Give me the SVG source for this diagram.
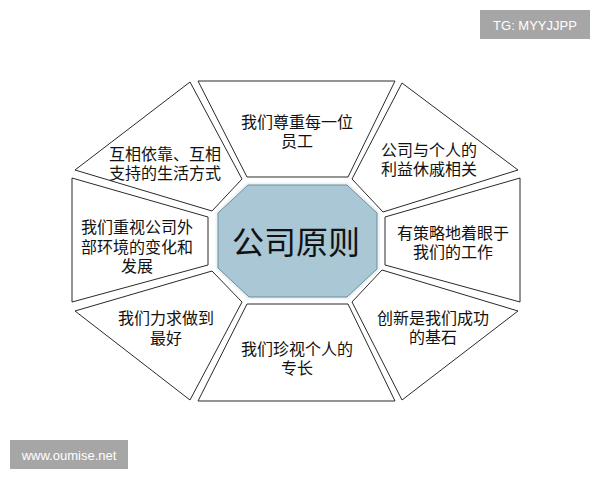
<svg xmlns="http://www.w3.org/2000/svg" width="600" height="480" viewBox="0 0 600 480">
  <style>
    .seg { fill: #ffffff; stroke: #2a2a2a; stroke-width: 1; stroke-linejoin: miter; }
    .t { font-family: "Noto Sans CJK SC", "Liberation Serif", serif; font-size: 16px; fill: #111; text-anchor: middle; dominant-baseline: central; }
    .c { font-family: "Noto Sans CJK SC", "Liberation Serif", serif; font-size: 32px; fill: #111; text-anchor: middle; dominant-baseline: central; }
    .wm { fill: #a6a6a6; }
    .wmt { font-family: "Liberation Sans", "DejaVu Sans", sans-serif; font-size: 13px; fill: #ffffff; text-anchor: middle; dominant-baseline: central; }
  </style>
  <rect x="0" y="0" width="600" height="480" fill="#ffffff"/>

  <g id="seg-top">
    <polygon class="seg" points="198,81 395,81 348,177 247,177"/>
    <text class="t" x="297" y="121">我们尊重每一位</text>
    <text class="t" x="297" y="140">员工</text>
  </g>
  <g id="seg-top-right">
    <polygon class="seg" points="402,83 518,170 383,212 352,179"/>
    <text class="t" x="429" y="149">公司与个人的</text>
    <text class="t" x="429" y="168">利益休戚相关</text>
  </g>
  <g id="seg-right">
    <polygon class="seg" points="385,217 520,178 520,302 385,265"/>
    <text class="t" x="453" y="232">有策略地着眼于</text>
    <text class="t" x="453" y="251">我们的工作</text>
  </g>
  <g id="seg-bottom-right">
    <polygon class="seg" points="382,270 518,311 402,400 352,302"/>
    <text class="t" x="433" y="317">创新是我们成功</text>
    <text class="t" x="433" y="336">的基石</text>
  </g>
  <g id="seg-bottom">
    <polygon class="seg" points="247,304 348,304 395,401 198,401"/>
    <text class="t" x="297" y="348">我们珍视个人的</text>
    <text class="t" x="297" y="367">专长</text>
  </g>
  <g id="seg-bottom-left">
    <polygon class="seg" points="75,311 212,271 242,302 190,400"/>
    <text class="t" x="166" y="317">我们力求做到</text>
    <text class="t" x="166" y="337">最好</text>
  </g>
  <g id="seg-left">
    <polygon class="seg" points="72,178 208,217 208,265 72,302"/>
    <text class="t" x="137" y="226">我们重视公司外</text>
    <text class="t" x="137" y="246">部环境的变化和</text>
    <text class="t" x="137" y="265">发展</text>
  </g>
  <g id="seg-top-left">
    <polygon class="seg" points="190,82 242,179 212,211 75,170"/>
    <text class="t" x="165" y="153">互相依靠、互相</text>
    <text class="t" x="165" y="172">支持的生活方式</text>
  </g>

  <g id="center">
    <polygon points="248,185 347,185 377,213 377,269 347,297 249,297 218,268 218,213" fill="none" stroke="#eef3f6" stroke-width="5"/>
    <polygon points="248,185 347,185 377,213 377,269 347,297 249,297 218,268 218,213" fill="#a9c7d5" stroke="#6d8d9b" stroke-width="1"/>
    <text class="c" x="296" y="240">公司原则</text>
  </g>

  <g id="connectors"></g>

  <g id="watermark-top">
    <rect class="wm" x="480" y="10" width="110" height="29"/>
    <text class="wmt" x="535" y="25">TG: MYYJJPP</text>
  </g>
  <g id="watermark-bottom">
    <rect class="wm" x="10" y="440" width="118" height="29"/>
    <text class="wmt" x="69" y="455">www.oumise.net</text>
  </g>
</svg>
